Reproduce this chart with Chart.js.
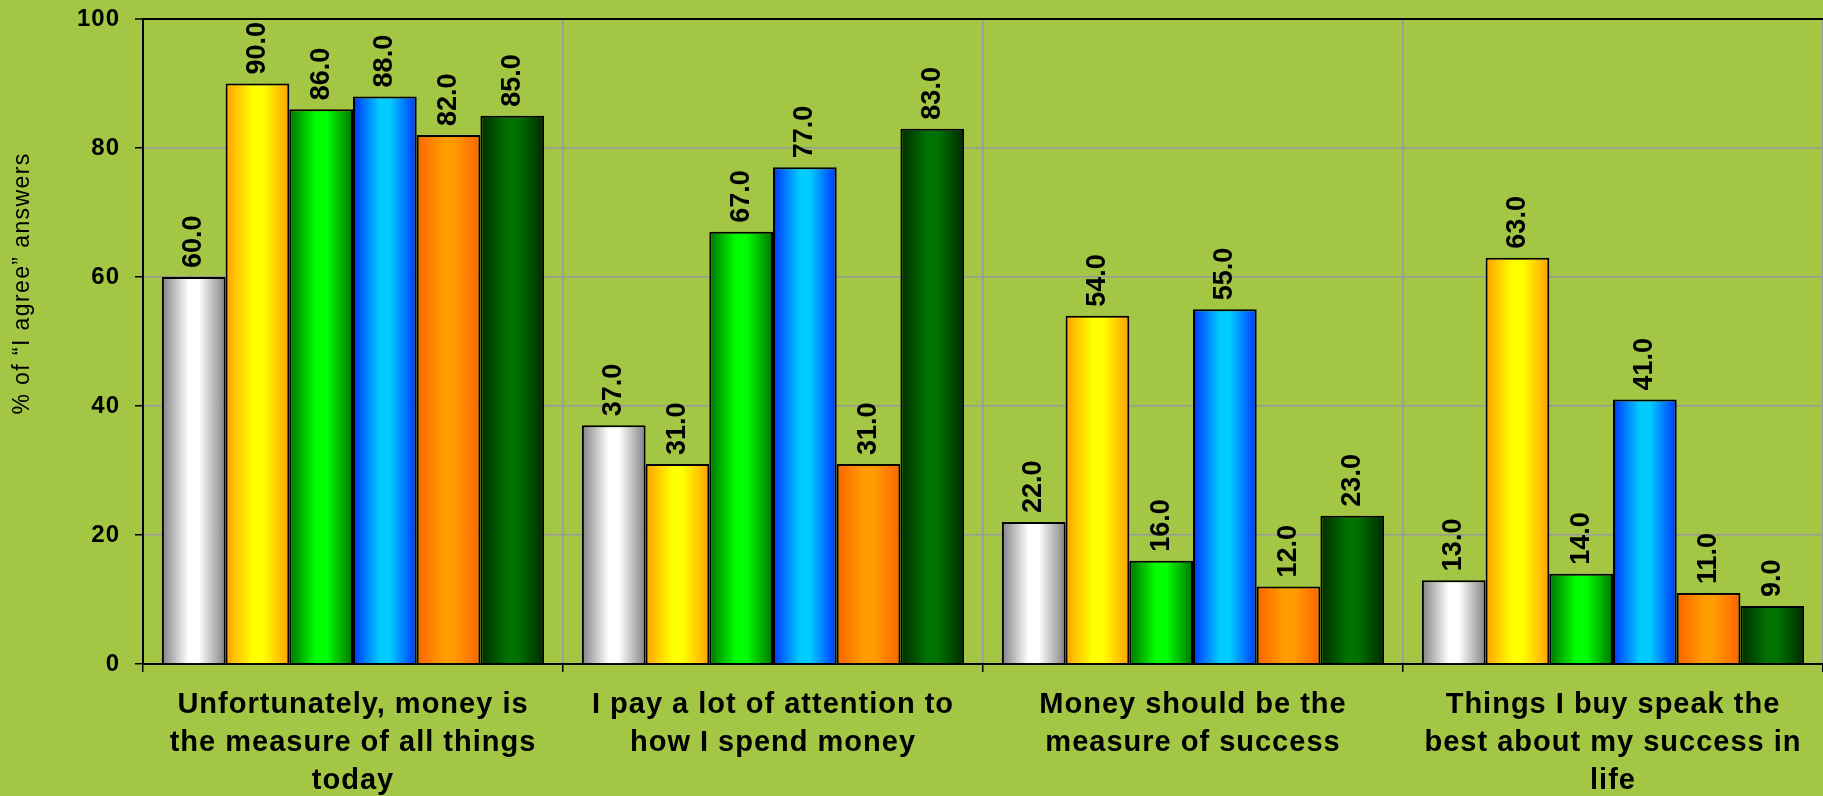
<!DOCTYPE html>
<html>
<head>
<meta charset="utf-8">
<title>Attitudes to money</title>
<script src="https://cdn.jsdelivr.net/npm/chart.js@4.4.1/dist/chart.umd.min.js"></script>
<style>
  html, body { margin: 0; padding: 0; background: #A3C644; overflow: hidden; }
  #chart { display: block; }
</style>
</head>
<body>
<canvas id="chart" width="1823" height="796"></canvas>
<script>
// ---- data ----
const categories = [
  ["Unfortunately, money is", "the measure of all things", "today"],
  ["I pay a lot of attention to", "how I spend money"],
  ["Money should be the", "measure of success"],
  ["Things I buy speak the", "best about my success in", "life"]
];
const silverValues    = [60, 37, 22, 13];
const yellowValues    = [90, 31, 54, 63];
const greenValues     = [86, 67, 16, 14];
const blueValues      = [88, 77, 55, 41];
const orangeValues    = [82, 31, 12, 11];
const darkGreenValues = [85, 83, 23, 9];
const yTickValues = [0, 20, 40, 60, 80, 100];
const yAxisTitle = "% of “I agree” answers";

// ---- styling ----
const FONT = '"Liberation Sans", Arial, Helvetica, sans-serif';
const CATEGORY_PCT = 0.91;
// [edge colour, centre colour] for the cylinder-like shading of each series
const shades = [
  ["#828282", "#ffffff"],
  ["#ffa000", "#ffff00"],
  ["#007400", "#00ff00"],
  ["#0034ff", "#00ccff"],
  ["#ff6200", "#ff9c00"],
  ["#002c00", "#007200"]
];

function shadedFill(ctx) {
  const [edge, centre] = shades[ctx.datasetIndex];
  const chart = ctx.chart;
  const xs = chart.scales && chart.scales.x;
  if (ctx.type !== "data" || !xs || !xs.width) return centre;
  const n = chart.data.datasets.length;
  const catW = xs.width / chart.data.labels.length;
  const groupW = catW * CATEGORY_PCT;
  const barW = groupW / n;
  const left = xs.getPixelForValue(ctx.dataIndex) - groupW / 2 + ctx.datasetIndex * barW;
  const g = chart.ctx.createLinearGradient(left, 0, left + barW, 0);
  g.addColorStop(0, edge);
  g.addColorStop(0.42, centre);
  g.addColorStop(0.58, centre);
  g.addColorStop(1, edge);
  return g;
}

function series(label, values) {
  return {
    label: label,
    data: values,
    backgroundColor: shadedFill,
    borderColor: "#000",
    borderWidth: 2,
    borderSkipped: "start",
    categoryPercentage: CATEGORY_PCT,
    barPercentage: 1
  };
}

// rotated value labels above each bar
const barValueLabels = {
  id: "barValueLabels",
  afterDatasetsDraw(chart) {
    const ctx = chart.ctx;
    ctx.save();
    ctx.font = "bold 27px " + FONT;
    ctx.fillStyle = "#000";
    ctx.textAlign = "left";
    ctx.textBaseline = "middle";
    chart.data.datasets.forEach((ds, di) => {
      chart.getDatasetMeta(di).data.forEach((bar, i) => {
        ctx.save();
        ctx.translate(bar.x, bar.y - 9);
        ctx.rotate(-Math.PI / 2);
        ctx.fillText(Number(ds.data[i]).toFixed(1), 0, 0);
        ctx.restore();
      });
    });
    ctx.restore();
  }
};

// slightly wider spacing for axis text, and the vertical axis caption
const axisText = {
  id: "axisText",
  beforeDraw(chart) {
    chart.ctx.letterSpacing = "1px";
  },
  beforeDatasetsDraw(chart) {
    chart.ctx.letterSpacing = "0px";
  },
  afterDraw(chart) {
    const ctx = chart.ctx;
    const area = chart.chartArea;
    ctx.save();
    ctx.letterSpacing = "1.4px";
    ctx.font = "23px " + FONT;
    ctx.fillStyle = "#000";
    ctx.textAlign = "center";
    ctx.textBaseline = "middle";
    ctx.translate(23, area.top + (area.bottom - area.top) * 0.41);
    ctx.rotate(-Math.PI / 2);
    ctx.fillText(yAxisTitle, 0, 0);
    ctx.restore();
  }
};

new Chart(document.getElementById("chart"), {
  type: "bar",
  data: {
    labels: categories,
    datasets: [
      series("Series 1", silverValues),
      series("Series 2", yellowValues),
      series("Series 3", greenValues),
      series("Series 4", blueValues),
      series("Series 5", orangeValues),
      series("Series 6", darkGreenValues)
    ]
  },
  options: {
    responsive: false,
    animation: false,
    events: [],
    layout: { padding: { top: 19, left: 0, right: 0, bottom: 0 } },
    plugins: {
      legend: { display: false },
      tooltip: { enabled: false },
      title: { display: false }
    },
    scales: {
      x: {
        offset: true,
        grid: {
          offset: true,
          color: "#999999",
          lineWidth: 1.5,
          drawTicks: true,
          tickLength: 8,
          tickColor: "#000",
          tickWidth: 1.5
        },
        border: { display: true, color: "#000", width: 2 },
        ticks: {
          color: "#000",
          padding: 14,
          maxRotation: 0,
          autoSkip: false,
          font: { family: FONT, size: 29, weight: "bold", lineHeight: 38 / 29 }
        },
        afterFit(scale) { scale.height = 132; }
      },
      y: {
        min: 0,
        max: 100,
        afterBuildTicks(scale) {
          scale.ticks = yTickValues.map(v => ({ value: v }));
        },
        grid: {
          color: c => (c.tick && c.tick.value === 100 ? "#000" : "#999999"),
          lineWidth: c => (c.tick && c.tick.value === 100 ? 2 : 1.5),
          drawTicks: true,
          tickLength: 8,
          tickColor: "#000",
          tickWidth: 1.5
        },
        border: { display: true, color: "#000", width: 2 },
        ticks: {
          color: "#000",
          padding: 15,
          font: { family: FONT, size: 24, weight: "bold" },
          callback: v => String(v)
        },
        afterFit(scale) {
          scale.width = 143;
          scale.paddingTop = 0;
          scale.paddingBottom = 0;
        }
      }
    }
  },
  plugins: [barValueLabels, axisText]
});
</script>
</body>
</html>
